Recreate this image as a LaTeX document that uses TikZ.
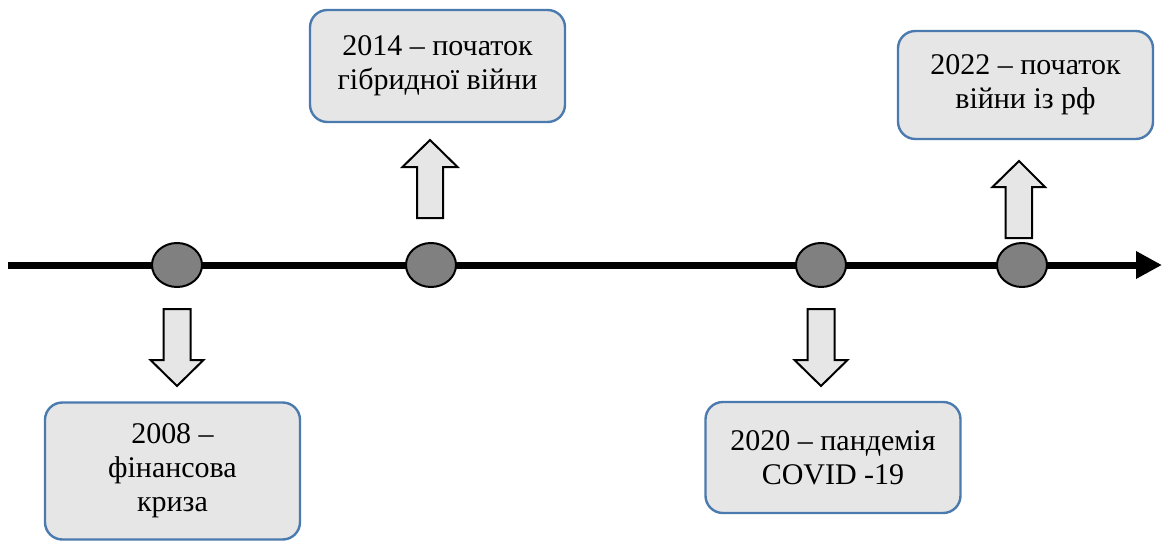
\documentclass[tikz,border=0pt]{standalone}
\usepackage{fontspec}
\setmainfont{Liberation Serif}
\usetikzlibrary{arrows.meta,shapes.geometric}
\definecolor{boxfill}{HTML}{E6E6E6}
\definecolor{boxline}{HTML}{4B7BAE}
\definecolor{dotfill}{HTML}{808080}
\tikzset{
  evbox/.style={draw=boxline, line width=1.8pt, fill=boxfill, rounded corners=13pt,
    minimum width=191.25pt, align=center, inner sep=0pt,
    font=\fontsize{22.5}{25.5}\selectfont},
  dot/.style={draw=black, line width=1.5pt, fill=dotfill, ellipse, minimum width=37.5pt, minimum height=33pt, inner sep=0pt},
  fatarrow/.style={draw=black, line width=1.5pt, fill=boxfill, line join=miter},
  axis/.style={line width=5.25pt, -{Triangle[length=19.5pt, width=19.5pt]}}
}
\begin{document}
\begin{tikzpicture}[x=0.75pt, y=-0.75pt]
\useasboundingbox (0,0) rectangle (1164,542);
\coordinate (L) at (8,265);
\coordinate (R) at (1162,265);
\draw[axis] (L) -- (R);
\node[dot] (d1) at (177,265) {};
\node[dot] (d2) at (431,265) {};
\node[dot] (d3) at (821,265) {};
\node[dot] (d4) at (1022,265) {};
\node[evbox, minimum height=84pt] (b2014) at (437.5,66) {2014 – початок\\гібридної війни};
\node[evbox, minimum height=81pt] (b2022) at (1025.5,85) {2022 – початок\\війни із рф};
\node[evbox, minimum height=102.75pt] (b2008) at (172.5,471) {2008 –\\фінансова\\криза};
\node[evbox, minimum height=83.25pt] (b2020) at (833,457.5) {2020 – пандемія\\COVID -19};
% down arrows
\draw[fatarrow] (163.5,309) -- (190.5,309) -- (190.5,360) -- (203.5,360) -- (177,386) -- (150.5,360) -- (163.5,360) -- cycle;
\draw[fatarrow] (807.5,309) -- (834.5,309) -- (834.5,360) -- (847.5,360) -- (821,386) -- (794.5,360) -- (807.5,360) -- cycle;
% up arrows
\draw[fatarrow] (417,218) -- (443,218) -- (443,167) -- (457.5,167) -- (430,140) -- (402.5,167) -- (417,167) -- cycle;
\draw[fatarrow] (1005.5,238) -- (1032,238) -- (1032,187) -- (1045,187) -- (1019,161) -- (992.5,187) -- (1005.5,187) -- cycle;
\end{tikzpicture}
\end{document}
